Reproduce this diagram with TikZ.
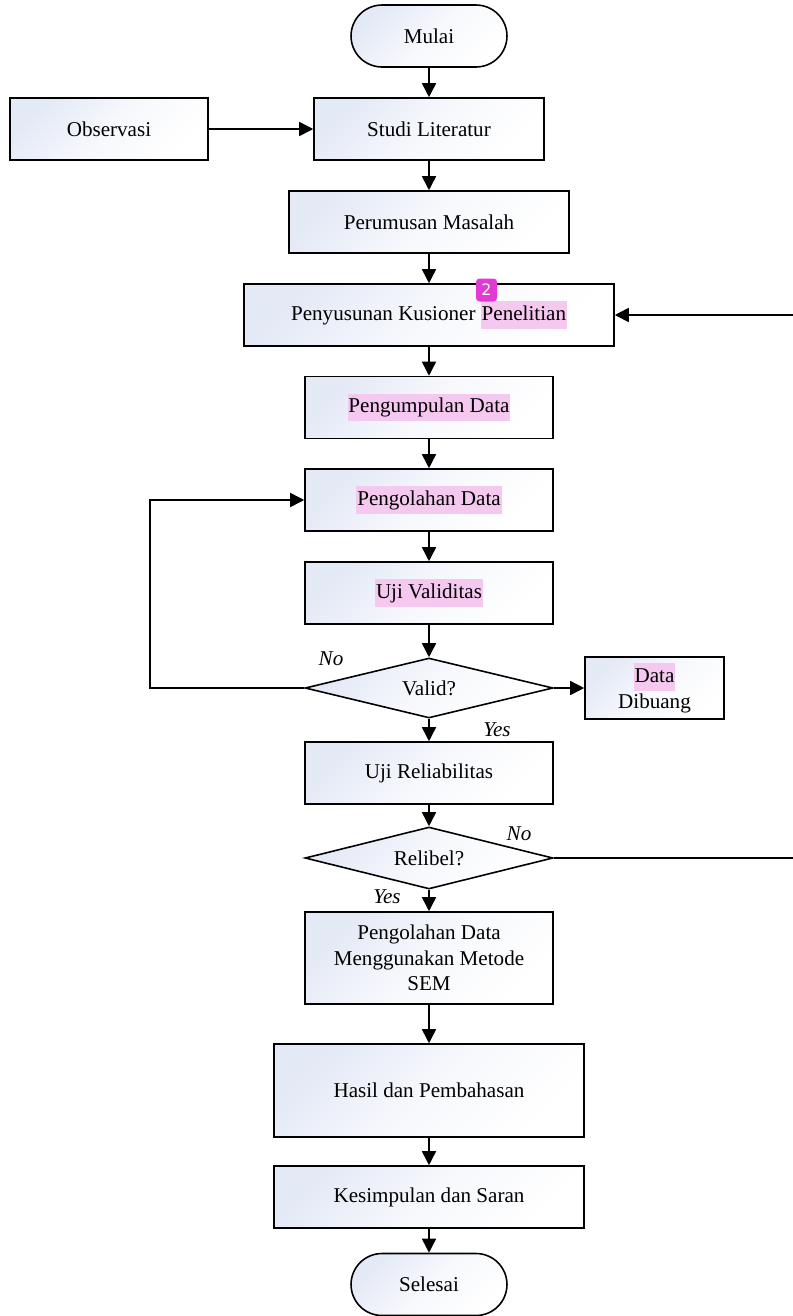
\documentclass[tikz,border=0pt]{standalone}
\usepackage{fontspec}
\setmainfont{Liberation Serif}
\newfontfamily\notefont{DejaVu Sans}
\usepackage{xcolor}
\usetikzlibrary{shapes.geometric,arrows.meta}
\definecolor{boxblue}{RGB}{228,233,246}
\definecolor{hlpink}{RGB}{245,200,240}
\definecolor{notemag}{RGB}{228,58,212}
\newcommand{\hl}[1]{{\setlength{\fboxsep}{0.5pt}\colorbox{hlpink}{\strut #1}}}
\tikzset{
    box/.style={draw, line width=0.9pt, left color=boxblue, right color=white, middle color=white!70!boxblue, shading angle=45, minimum height=1.24cm, font=\fontsize{12}{14.5}\selectfont, align=center},
    term/.style={box, rounded corners=0.62cm, minimum width=3.12cm},
    decision/.style={box, diamond, aspect=4.1, minimum width=4.96cm, minimum height=1.2cm, inner sep=0pt},
    line/.style={line width=0.9pt},
    arrow/.style={line, -{Triangle[length=8pt,width=8pt]}},
    answer/.style={font=\fontsize{12}{14}\selectfont\itshape}
}
\begin{document}
\begin{tikzpicture}[x=0.02cm, y=-0.02cm]
    \useasboundingbox (0,0) rectangle (792,1316);
    % Main flow
    \node[term] (mulai) at (429,36) {Mulai};
    \node[box, minimum width=3.96cm] (obs) at (109,129) {Observasi};
    \node[box, minimum width=4.6cm] (studi) at (429,129) {Studi Literatur};
    \node[box, minimum width=5.6cm] (rumus) at (429,222) {Perumusan Masalah};
    \node[box, minimum width=7.4cm] (susun) at (429,315) {Penyusunan Kusioner \hl{Penelitian}};
    \node[box, minimum width=4.96cm] (kumpul) at (429,407.5) {\hl{Pengumpulan Data}};
    \node[box, minimum width=4.96cm] (olah) at (429,500) {\hl{Pengolahan Data}};
    \node[box, minimum width=4.96cm] (validitas) at (429,593) {\hl{Uji Validitas}};
    \node[decision] (valid) at (429,688) {Valid?};
    \node[box, minimum width=2.78cm, font=\fontsize{12}{14.8}\selectfont] (buang) at (654.5,688) {\hl{Data}\\Dibuang};
    \node[box, minimum width=4.96cm] (reli) at (429,773) {Uji Reliabilitas};
    \node[decision, minimum height=1.24cm] (relibel) at (429,858) {Relibel?};
    \node[box, minimum width=4.96cm, minimum height=1.84cm] (sem) at (429,958) {Pengolahan Data\\Menggunakan Metode\\SEM};
    \node[box, minimum width=6.2cm, minimum height=1.86cm] (hasil) at (429,1090.5) {Hasil dan Pembahasan};
    \node[box, minimum width=6.2cm] (simpul) at (429,1197) {Kesimpulan dan Saran};
    \node[term] (selesai) at (429,1284.5) {Selesai};

    % Comment marker
    \node[fill=notemag, rounded corners=2pt, text=white, font=\notefont\fontsize{9}{9}\selectfont, minimum width=0.42cm, minimum height=0.46cm, inner sep=0pt] (note) at (486.5,290) {2};

    % Answers
    \node[answer] (no1) at (331,659) {No};
    \node[answer] (yes1) at (497,730) {Yes};
    \node[answer] (no2) at (519,834) {No};
    \node[answer] (yes2) at (387,897) {Yes};

    % Connectors
    \draw[arrow] (mulai) -- (studi);
    \draw[arrow] (obs) -- (studi);
    \draw[arrow] (studi) -- (rumus);
    \draw[arrow] (rumus) -- (susun);
    \draw[arrow] (susun) -- (kumpul);
    \draw[arrow] (kumpul) -- (olah);
    \draw[arrow] (olah) -- (validitas);
    \draw[arrow] (validitas) -- (valid);
    \draw[arrow] (valid) -- (reli);
    \draw[arrow] (valid.east) -- (buang);
    \draw[arrow] (reli) -- (relibel);
    \draw[arrow] (relibel) -- (sem);
    \draw[arrow] (sem) -- (hasil);
    \draw[arrow] (hasil) -- (simpul);
    \draw[arrow] (simpul) -- (selesai);

    % Loops back
    \coordinate (loopL) at (150,688);
    \coordinate (loopR) at (800,858);
    \draw[arrow] (valid.west) -- (loopL) |- (olah.west);
    \draw[arrow] (relibel.east) -- (loopR) |- (susun.east);
\end{tikzpicture}
\end{document}
